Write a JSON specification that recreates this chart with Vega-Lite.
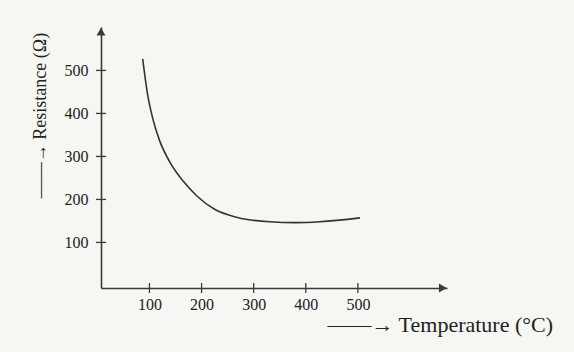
{
  "$schema": "https://vega.github.io/schema/vega-lite/v6.json",
  "autosize": "none",
  "width": 346,
  "height": 261,
  "padding": {"left": 101, "top": 27, "right": 127, "bottom": 64},
  "background": "#f6f6f3",
  "config": {
    "view": {"stroke": null},
    "font": "Liberation Serif",
    "axis": {
      "domainColor": "#3a3a3a",
      "domainWidth": 1.6,
      "ticks": false,
      "grid": false,
      "labelFont": "Liberation Serif",
      "labelFontSize": 16,
      "labelColor": "#222222",
      "titleFont": "Liberation Serif",
      "titleFontWeight": "normal",
      "titleColor": "#222222"
    }
  },
  "datasets": {
    "curve": [
      {"temp": 87, "resistance": 527},
      {"temp": 97, "resistance": 440},
      {"temp": 107, "resistance": 385},
      {"temp": 120, "resistance": 335},
      {"temp": 140, "resistance": 285},
      {"temp": 165, "resistance": 242},
      {"temp": 191, "resistance": 208},
      {"temp": 225, "resistance": 177},
      {"temp": 269, "resistance": 158},
      {"temp": 331, "resistance": 148},
      {"temp": 380, "resistance": 146},
      {"temp": 427, "resistance": 148},
      {"temp": 504, "resistance": 157}
    ],
    "tickvalues": [
      {"v": 100}, {"v": 200}, {"v": 300}, {"v": 400}, {"v": 500}
    ]
  },
  "layer": [
    {
      "data": {"name": "curve"},
      "mark": {"type": "line", "color": "#333333", "strokeWidth": 1.6, "interpolate": "monotone"},
      "encoding": {
        "x": {
          "field": "temp", "type": "quantitative",
          "scale": {"domain": [7, 671], "nice": false, "zero": false},
          "axis": {
            "values": [100, 200, 300, 400, 500],
            "labelPadding": 8,
            "title": "——→ Temperature (°C)",
            "titleFontSize": 22,
            "titleAlign": "left",
            "titleBaseline": "alphabetic",
            "titleX": 226,
            "titleY": 43
          }
        },
        "y": {
          "field": "resistance", "type": "quantitative",
          "scale": {"domain": [-6, 601], "nice": false, "zero": false},
          "axis": {
            "values": [100, 200, 300, 400, 500],
            "labelPadding": 13,
            "title": "——→ Resistance (Ω)",
            "titleFontSize": 18,
            "titleAngle": -90,
            "titleAlign": "center",
            "titleBaseline": "middle",
            "titleX": -61,
            "titleY": 88
          }
        }
      }
    },
    {
      "data": {"name": "tickvalues"},
      "mark": {"type": "tick", "orient": "horizontal", "color": "#3a3a3a", "size": 10, "thickness": 1.3, "opacity": 1},
      "encoding": {
        "x": {"datum": 7, "type": "quantitative"},
        "y": {"field": "v", "type": "quantitative"}
      }
    },
    {
      "data": {"name": "tickvalues"},
      "mark": {"type": "tick", "orient": "vertical", "color": "#3a3a3a", "size": 10, "thickness": 1.3, "opacity": 1},
      "encoding": {
        "x": {"field": "v", "type": "quantitative"},
        "y": {"datum": -6, "type": "quantitative"}
      }
    },
    {
      "data": {"values": [{}]},
      "mark": {"type": "point", "shape": "triangle-right", "filled": true, "color": "#3a3a3a", "size": 80, "opacity": 1},
      "encoding": {
        "x": {"datum": 663, "type": "quantitative"},
        "y": {"datum": -6, "type": "quantitative"}
      }
    },
    {
      "data": {"values": [{}]},
      "mark": {"type": "point", "shape": "triangle-up", "filled": true, "color": "#3a3a3a", "size": 80, "opacity": 1},
      "encoding": {
        "x": {"datum": 7, "type": "quantitative"},
        "y": {"datum": 590, "type": "quantitative"}
      }
    }
  ]
}
